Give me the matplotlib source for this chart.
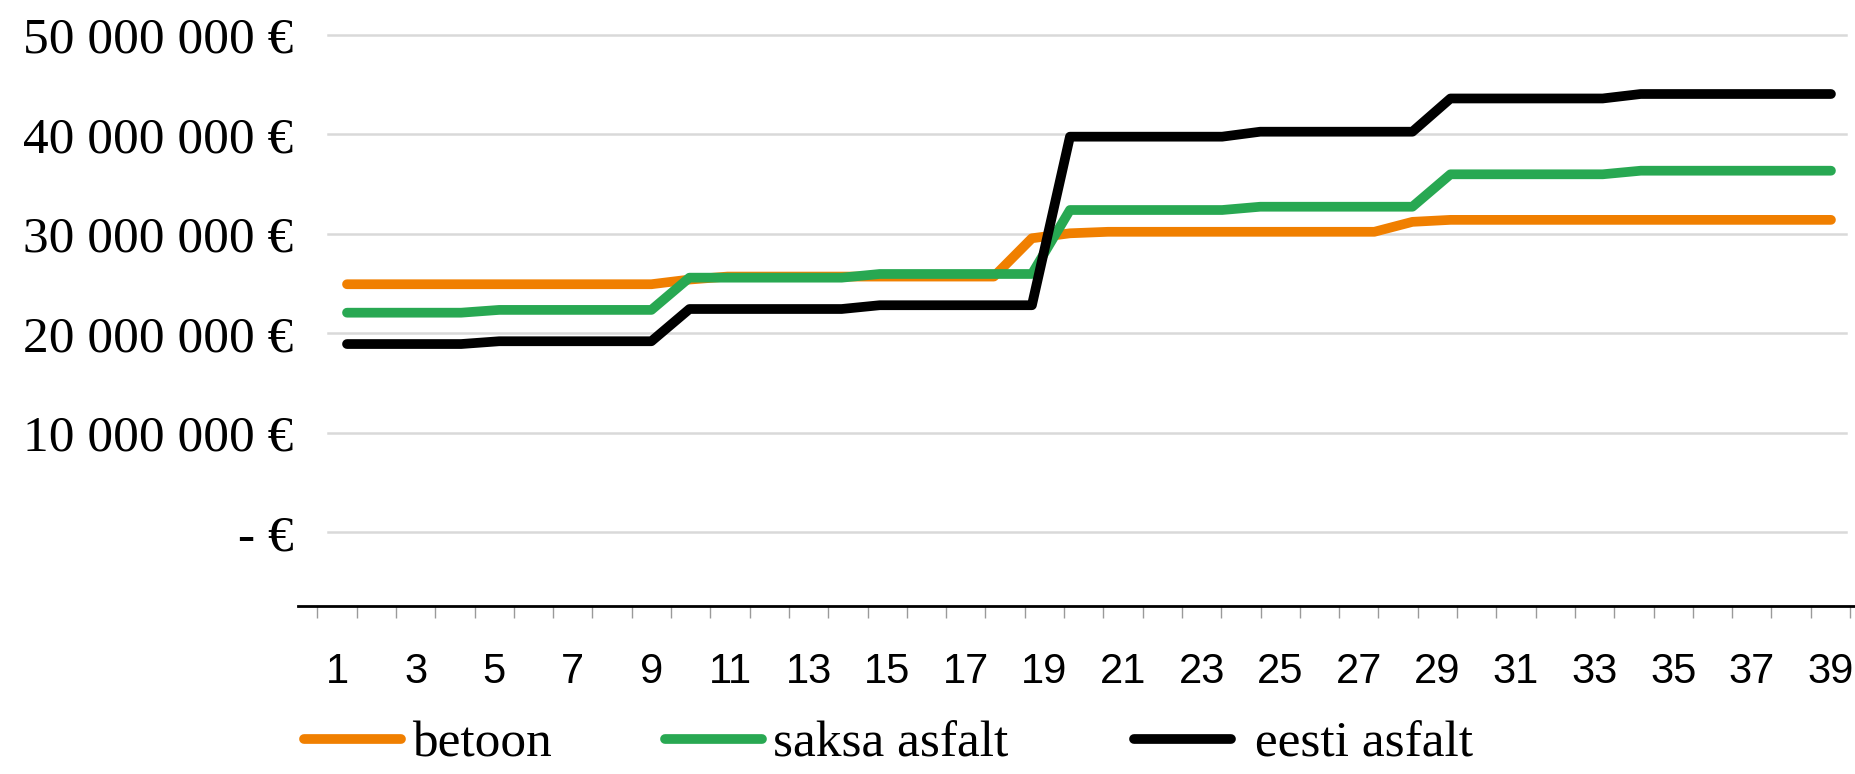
import matplotlib
matplotlib.use('Agg')
import matplotlib.pyplot as plt

# 40 aastat, teljel kuvatakse 39 kategooriat
points = list(range(1, 41))
categories = list(range(1, 40))

betoon = [24.93, 24.93, 24.93, 24.93, 24.93, 24.93, 24.93, 24.93, 24.93, 25.40,
          25.70, 25.70, 25.70, 25.70, 25.70, 25.70, 25.70, 25.70, 29.55, 30.05,
          30.20, 30.20, 30.20, 30.20, 30.20, 30.20, 30.20, 30.20, 31.20, 31.40,
          31.40, 31.40, 31.40, 31.40, 31.40, 31.40, 31.40, 31.40, 31.40, 31.40]
saksa_asfalt = [22.07, 22.07, 22.07, 22.07, 22.35, 22.35, 22.35, 22.35, 22.35, 25.59,
                25.59, 25.59, 25.59, 25.59, 25.96, 25.96, 25.96, 25.96, 25.96, 32.39,
                32.39, 32.39, 32.39, 32.39, 32.72, 32.72, 32.72, 32.72, 32.72, 35.98,
                35.98, 35.98, 35.98, 35.98, 36.34, 36.34, 36.34, 36.34, 36.34, 36.34]
eesti_asfalt = [18.92, 18.92, 18.92, 18.92, 19.20, 19.20, 19.20, 19.20, 19.20, 22.44,
                22.44, 22.44, 22.44, 22.44, 22.82, 22.82, 22.82, 22.82, 22.82, 39.76,
                39.76, 39.76, 39.76, 39.76, 40.26, 40.26, 40.26, 40.26, 40.26, 43.60,
                43.60, 43.60, 43.60, 43.60, 44.05, 44.05, 44.05, 44.05, 44.05, 44.05]

series_names = ['betoon', 'saksa asfalt ', ' eesti asfalt']
series_colors = ['#F07F00', '#28A852', '#000000']

y_ticks = [0, 10_000_000, 20_000_000, 30_000_000, 40_000_000, 50_000_000]
y_labels = ['- €', '10 000 000 €', '20 000 000 €', '30 000 000 €',
            '40 000 000 €', '50 000 000 €']
x_label_cats = categories[::2]

W, H = 1856, 774
fig = plt.figure(figsize=(W / 100, H / 100), dpi=100)
ax = fig.add_axes([298 / W, (H - 606) / H, (W - 298) / W, (606 - 34.8) / H])

ax.set_xlim(0.0076, 39.651)
ax.set_ylim(-7.41e6, 50e6)

# kategooriatelg
ax.set_xticks(x_label_cats, [str(c) for c in x_label_cats])
ax.set_xticks([c - 0.5 for c in categories] + [categories[-1] + 0.5], minor=True)
ax.tick_params(axis='x', which='major', length=0, pad=33, labelsize=30)
ax.tick_params(axis='x', which='minor', length=8.6, width=1, color='#9A9A9A')
for lbl in ax.get_xticklabels():
    lbl.set_fontfamily('Liberation Sans')

ax.set_yticks(y_ticks, y_labels)
ax.tick_params(axis='y', length=0, pad=3.2, labelsize=37)
for lbl in ax.get_yticklabels():
    lbl.set_fontfamily('Liberation Serif')

for v in y_ticks:
    ax.axhline(v, xmin=0.0193, xmax=0.9936, color='#D9D9D9', lw=1.8,
               clip_on=False, zorder=0)

for side in ['left', 'right', 'top']:
    ax.spines[side].set_visible(False)
ax.spines['bottom'].set_color('black')
ax.spines['bottom'].set_linewidth(2)

# jooned omal teljel (40 punkti)
ax2 = ax.twiny()
ax2.set_xlim(-0.2878, 40.658)
handles = []
for vals, name, col in zip([betoon, saksa_asfalt, eesti_asfalt], series_names, series_colors):
    ln, = ax2.plot(points, [v * 1e6 for v in vals], color=col, lw=7,
                   solid_capstyle='round', solid_joinstyle='round', label=name)
    handles.append(ln)
ax2.xaxis.set_visible(False)
for sp in ax2.spines.values():
    sp.set_visible(False)

fig.legend(handles, series_names, loc='center left',
           bbox_to_anchor=(304 / W, 1 - 744 / H), ncol=3, frameon=False,
           prop={'family': 'Liberation Serif', 'size': 37},
           handlelength=1.89, handletextpad=0.21, columnspacing=2.2,
           borderpad=0, borderaxespad=0)

fig.savefig('out.png', dpi=100)
